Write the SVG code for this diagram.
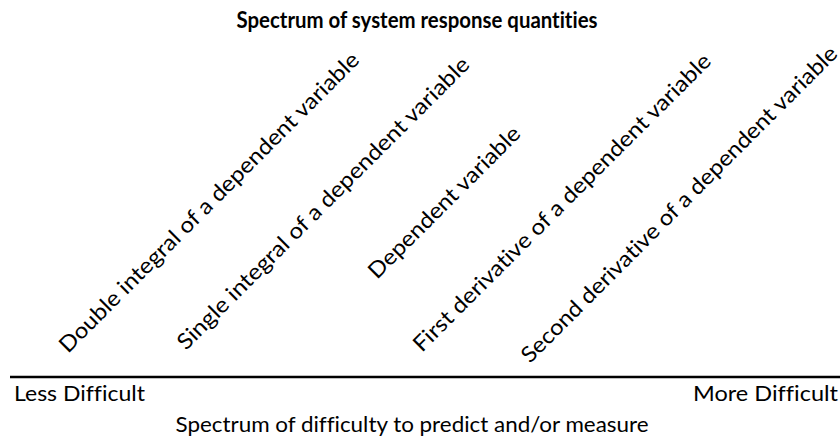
<svg xmlns="http://www.w3.org/2000/svg" width="840" height="445" viewBox="0 0 840 445">
  <style>
    text { font-family: Lato, "Open Sans", "Liberation Sans", sans-serif; fill: #000; font-variant-ligatures: none; font-feature-settings: "liga" 0, "clig" 0; }
    .title { font-size: 23px; font-weight: bold; }
    .item { font-size: 22px; }
    .axis-label { font-size: 22px; }
    .axis { stroke: #000; stroke-width: 2.5; }
  </style>
  <rect width="840" height="445" fill="#fff"/>

  <text class="title" x="417" y="28" text-anchor="middle" textLength="361" lengthAdjust="spacingAndGlyphs">Spectrum of system response quantities</text>

  <!-- response quantities, slanted at 45 degrees along the spectrum -->
  <g id="double-integral">
    <text class="item" transform="translate(68,354) rotate(-45)" textLength="414" lengthAdjust="spacingAndGlyphs">Double integral of a dependent variable</text>
  </g>
  <g id="single-integral">
    <text class="item" transform="translate(186,351) rotate(-45)" textLength="403" lengthAdjust="spacingAndGlyphs">Single integral of a dependent variable</text>
  </g>
  <g id="dependent-variable">
    <text class="item" transform="translate(377,280) rotate(-45)" textLength="205" lengthAdjust="spacingAndGlyphs">Dependent variable</text>
  </g>
  <g id="first-derivative">
    <text class="item" transform="translate(422,353) rotate(-45)" textLength="411" lengthAdjust="spacingAndGlyphs">First derivative of a dependent variable</text>
  </g>
  <g id="second-derivative">
    <text class="item" transform="translate(530,364) rotate(-45)" textLength="437" lengthAdjust="spacingAndGlyphs">Second derivative of a dependent variable</text>
  </g>

  <!-- difficulty axis -->
  <g id="axis">
    <line class="axis" x1="10" y1="377" x2="840" y2="377"/>
    <text class="axis-label" x="14" y="401" textLength="131" lengthAdjust="spacingAndGlyphs">Less Difficult</text>
    <text class="axis-label" x="838" y="401" text-anchor="end" textLength="145" lengthAdjust="spacingAndGlyphs">More Difficult</text>
    <text class="axis-label" x="412" y="432" text-anchor="middle" textLength="473" lengthAdjust="spacingAndGlyphs">Spectrum of difficulty to predict and/or measure</text>
  </g>
</svg>
